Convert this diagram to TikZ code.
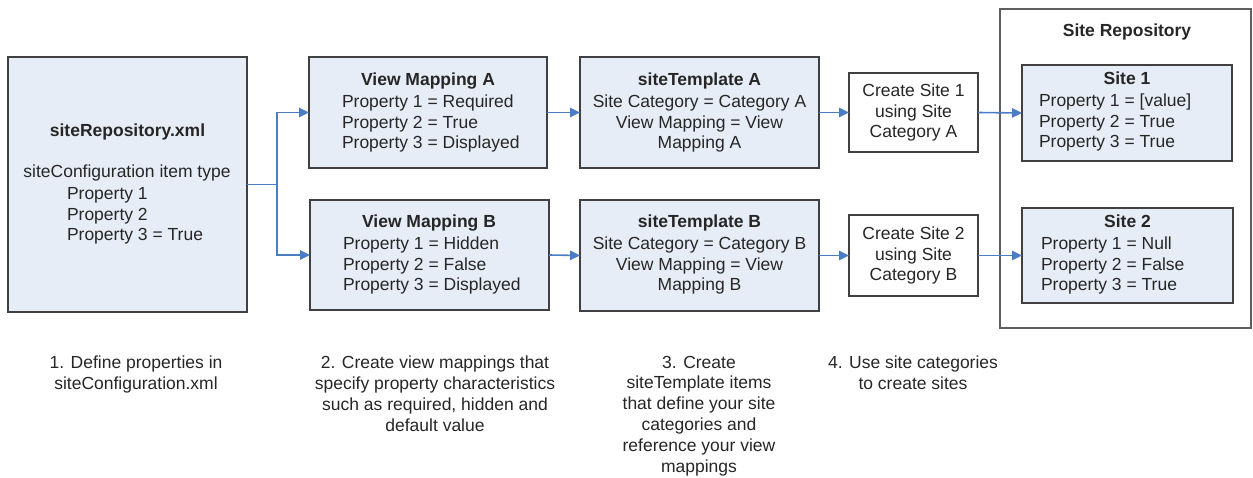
\documentclass[tikz,border=0pt]{standalone}
\usepackage{fontspec}
\setmainfont{Liberation Sans}
\usetikzlibrary{arrows.meta}
\definecolor{boxfill}{HTML}{E7EDF7}
\definecolor{boxline}{HTML}{404040}
\definecolor{groupline}{HTML}{5F5F5F}
\definecolor{flow}{HTML}{4A7DC6}
\begin{document}
\begin{tikzpicture}[x=1pt,y=-1pt,
  every node/.style={font=\fontsize{17.5}{20.8}\selectfont, inner sep=0pt, outer sep=0pt, text=black!85},
  panel/.style={draw=boxline, fill=boxfill, line width=1.8pt, rectangle},
  plainbox/.style={draw=boxline, fill=white, line width=1.5pt, rectangle},
  groupbox/.style={draw=groupline, line width=1.6pt, rectangle},
  flowarrow/.style={draw=flow, line width=1.6pt, -{Triangle[length=10pt,width=9.5pt]}},
  % multi-line texts are placed by the baseline of their last line
  txt/.style={align=left, anchor=base west},
  ctxt/.style={align=center, anchor=base},
  title/.style={font=\fontsize{17.5}{20.8}\selectfont\bfseries, anchor=base}]
\useasboundingbox (0,0) rectangle (1253,478);

% boxes
\node[panel, minimum width=239pt, minimum height=255pt] (repo) at (127.5,184.5) {};
\node[panel, minimum width=238pt, minimum height=111pt] (vmA) at (428,112.5) {};
\node[panel, minimum width=239pt, minimum height=110pt] (vmB) at (429.5,255) {};
\node[panel, minimum width=239pt, minimum height=111pt] (stA) at (699.5,112.5) {};
\node[panel, minimum width=239pt, minimum height=111pt] (stB) at (699.5,255.5) {};
\node[plainbox, minimum width=129pt, minimum height=79pt] (csA) at (913.5,112.5) {};
\node[plainbox, minimum width=129pt, minimum height=81pt] (csB) at (913.5,255.5) {};
\node[groupbox, minimum width=251pt, minimum height=319pt] (group) at (1125.5,168.5) {};
\node[panel, minimum width=210pt, minimum height=96pt] (site1) at (1127,113) {};
\node[panel, minimum width=211pt, minimum height=95pt] (site2) at (1127.5,255.5) {};

% box contents
\node[title] (repoT) at (127.5,137) {siteRepository.xml};
\node[ctxt] (repoC) at (127,178) {siteConfiguration item type};
\node[txt] (repoP) at (67,241) {Property 1\\Property 2\\Property 3 = True};

\node[title] (vmAT) at (428,86) {View Mapping A};
\node[txt] (vmAP) at (342,149) {Property 1 = Required\\Property 2 = True\\Property 3 = Displayed};
\node[title] (vmBT) at (429,228) {View Mapping B};
\node[txt] (vmBP) at (343,291) {Property 1 = Hidden\\Property 2 = False\\Property 3 = Displayed};

\node[title] (stAT) at (699.5,86) {siteTemplate A};
\node[ctxt] (stAP) at (699.5,149) {Site Category = Category A\\View Mapping = View\\Mapping A};
\node[title] (stBT) at (699.5,228) {siteTemplate B};
\node[ctxt] (stBP) at (699.5,291) {Site Category = Category B\\View Mapping = View\\Mapping B};

\node[ctxt] (csAT) at (913.5,138) {Create Site 1\\using Site\\Category A};
\node[ctxt] (csBT) at (913.5,281) {Create Site 2\\using Site\\Category B};

\node[title] (groupT) at (1127,37) {Site Repository};
\node[title] (site1T) at (1127,85) {Site 1};
\node[txt] (site1P) at (1039,148) {Property 1 = [value]\\Property 2 = True\\Property 3 = True};
\node[title] (site2T) at (1127.5,228) {Site 2};
\node[txt] (site2P) at (1041,291) {Property 1 = Null\\Property 2 = False\\Property 3 = True};

% step captions
\node[ctxt] (cap1) at (136,389.5) {1. Define properties in\\siteConfiguration.xml};
\node[ctxt] (cap2) at (435,431) {2. Create view mappings that\\specify property characteristics\\such as required, hidden and\\default value};
\node[ctxt] (cap3) at (699,472) {3. Create\\siteTemplate items\\that define your site\\categories and\\reference your view\\mappings};
\node[ctxt] (cap4) at (913,389.5) {4. Use site categories\\to create sites};

% connectors
\draw[flowarrow] (repo.east) -- ++(30,0) |- (vmA.west);
\draw[flowarrow] (repo.east) -- ++(30,0) |- (vmB.west);
\draw[flowarrow] (vmA.east) -- (stA.west);
\draw[flowarrow] (vmB.east) -- (stB.west);
\draw[flowarrow] (stA.east) -- (csA.west);
\draw[flowarrow] (stB.east) -- (csB.west);
\draw[flowarrow] (csA.east) -- (site1.west);
\draw[flowarrow] (csB.east) -- (site2.west);
\end{tikzpicture}
\end{document}
